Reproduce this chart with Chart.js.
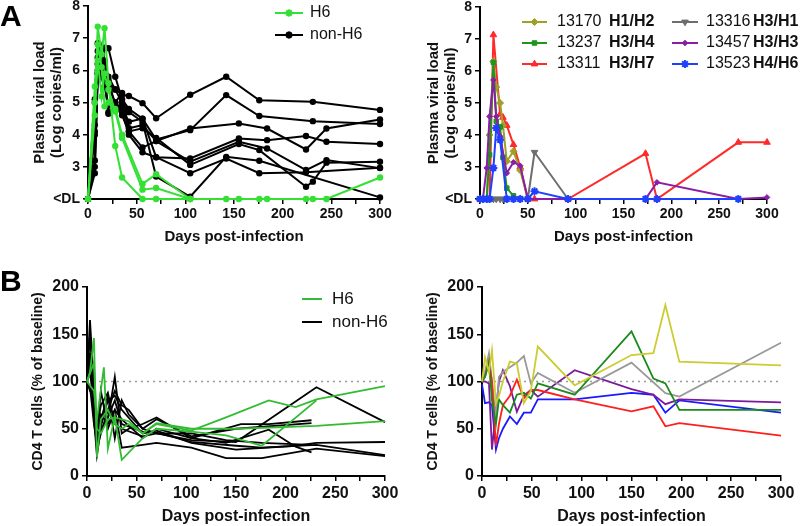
<!DOCTYPE html>
<html>
<head>
<meta charset="utf-8">
<script src="https://cdn.jsdelivr.net/npm/chart.js@4/dist/chart.umd.min.js"></script>
<style>
  html, body { margin:0; padding:0; background:#fff; }
  #wrap { position:relative; width:800px; height:526px; overflow:hidden; background:#fff; }
  canvas { position:absolute; }
  .letter { position:absolute; font-family:'Liberation Sans', Arial, sans-serif; font-weight:bold; font-size:30px; color:#000; line-height:1; }
</style>
</head>
<body>
<div id="wrap">
  <canvas id="cA1" width="400" height="260" style="left:0;top:0"></canvas>
  <canvas id="cA2" width="400" height="260" style="left:400px;top:0"></canvas>
  <canvas id="cB1" width="400" height="266" style="left:0;top:260px"></canvas>
  <canvas id="cB2" width="400" height="266" style="left:400px;top:260px"></canvas>
  <div class="letter" style="left:0;top:1px">A</div>
  <div class="letter" style="left:0;top:266px">B</div>
</div>
<script>
// ---------------- DATA ----------------
// Panel A (left): plasma viral load, log copies/ml (2 = <DL)
const daysA1 = [0,7,10,14,17,21,28,35,42,56,70,105,142,155,176,184,224,231,245,300];
const h6A_1 = [2,5.0,7.36,6.5,7.31,5.6,3.65,2.67,null,2,2,2,2,2,2,2,2,2,2,2.67];
const h6A_2 = [2,4.6,6.3,5.19,5.9,5.4,4.72,3.9,null,2.29,2.34,2,null,null,null,null,null,null,null,null];
const h6A_3 = [2,5.5,6.8,6.1,4.88,5.0,4.8,4.0,null,2.47,2.77,2,null,null,null,null,null,null,null,null];
const nonA_1 = [2,5.1,6.84,6.3,6.0,5.6,5.41,5.24,5.2,4.98,4.51,5.24,5.80,null,5.07,null,null,5.02,null,4.77];
const nonA_2 = [2,4.0,6.6,6.0,6.7,6.69,5.8,5.1,4.8,4.5,3.85,4.14,5.23,null,4.58,null,null,4.42,null,4.33];
const nonA_3 = [2,5.0,6.2,5.8,6.3,5.7,4.9,4.9,4.2,4.3,3.8,4.19,null,4.35,null,4.19,3.54,null,4.19,4.47];
const nonA_4 = [2,4.1,5.9,6.5,5.7,4.65,4.8,4.8,4.4,4.5,3.3,3.26,null,3.88,null,3.83,3.96,null,3.78,3.71];
const nonA_5 = [2,3.0,5.7,6.0,5.5,4.9,5.0,5.3,4.1,3.6,3.8,3.16,null,3.78,null,3.57,2.90,null,3.21,2.96];
const nonA_6 = [2,2.8,6.0,6.7,5.9,4.7,4.9,4.6,4.1,4.2,3.9,3.06,null,3.71,3.52,null,2.38,2.54,3.13,3.16];
const nonA_7 = [2,4.3,6.4,6.2,6.0,5.5,5.0,4.7,4.0,3.45,3.3,2.80,3.26,null,2.80,null,2.83,null,null,2.97];
const nonA_8 = [2,3.2,5.9,6.5,6.2,5.8,5.4,5.0,4.7,4.4,2.7,2.07,3.31,null,3.19,null,null,null,null,2.05];

// Panel A (right): individual animals
const daysA2 = [0,3,7,10,14,17,21,24,28,35,42,50,57,92,173,185,270,300];
const a13170 = [2,2,2,4.0,6.3,5.5,5.0,4.3,3.18,3.49,2.9,2,null,null,null,null,null,null];
const a13237 = [2,2,2,3.38,6.27,4.43,4.25,3.3,2.34,2.1,2,2,null,null,null,null,null,null];
const a13311 = [2,2,2,2,7.13,null,4.65,4.55,4.3,3.7,3.0,2,2,2,3.42,2,3.77,3.77];
const a13316 = [2,2,2,2,2,2,2,2,2,2,2,2,3.46,2,null,null,null,null];
const a13457 = [2,2,2.97,4.58,5.72,4.58,3.96,null,2.81,3.15,3.04,2,null,null,2,2.52,2,2.05];
const a13523 = [2,2,2,2,2.97,4.22,3.85,null,2,2,2,2,2.24,2,2,2,2,null];

// Panel B (left): CD4 T cells, % of baseline
const daysB1 = [0,3,7,10,14,17,21,28,35,42,56,70,105,140,150,155,176,183,210,226,231,300];
const h6B_1 = [100,110,146,20,60,null,70,55,50,55,45,55,48,62,null,null,null,80,73,null,81,95];
const h6B_2 = [100,null,90,60,null,115,29,63,17,null,40,50,47,43,null,null,32,null,null,null,80,null];
const h6B_3 = [100,null,120,50,45,null,60,62,60,58,45,56,50,null,50,null,null,null,null,null,53,58];
const nonB_1 = [100,130,60,22,50,null,60,105,45,50,55,62,40,null,null,55,null,55,null,59,null,null];
const nonB_2 = [100,165,95,25,60,null,85,40,80,65,50,60,42,null,50,null,null,null,null,56,null,null];
const nonB_3 = [100,150,80,40,65,null,55,70,30,null,33,35,30,19,null,null,19,null,null,null,29,21];
const nonB_4 = [100,125,100,30,45,null,70,90,75,70,50,45,38,null,36,null,null,null,null,null,94,57];
const nonB_5 = [100,110,75,60,55,null,80,85,70,null,45,48,35,null,28,null,null,null,32,null,35,36];
const nonB_6 = [100,90,85,45,90,null,50,70,60,null,40,50,40,35,null,null,null,49,31,25,null,null];
const nonB_7 = [100,95,55,35,null,65,62,80,55,null,47,46,36,null,32,null,30,null,null,null,33,22];
const nonB_8 = [100,120,90,50,75,null,88,55,50,null,42,45,45,38,null,null,35,null,null,33,null,null];

// Panel B (right): individual animals
const daysB2 = [0,3,7,10,14,17,21,28,35,42,49,56,93,150,172,184,198,300];
const b13170 = [100,126,110,133,77,85,100,121,119,77,90,137,96,128,130,181,121,117];
const b13237 = [100,105,120,80,55,81,75,67,86,88,82,98,86,153,103,98,70,70];
const b13311 = [100,105,121,100,32,55,75,85,102,82,91,91,81,68.5,73.7,52.6,56,42.8];
const b13316 = [100,110,130,100,60,105,110,115,120,127,98,109,88,120,null,87.7,84,141];
const b13457 = [100,100,98,28,70,100,112,95,68,85,91,84,112,92,86,76,81,78];
const b13523 = [97,77,78,75,28,40,50,63,55,67,67,81,81,88,86,67,80,67];

const baselinePct = 100;
const dayRange = [0, 300];

// ---------------- HELPERS ----------------
const FONT = "'Liberation Sans', Arial, Helvetica, sans-serif";
function pts(days, vals) {
  const out = [];
  days.forEach((d, i) => { if (vals[i] !== null && vals[i] !== undefined) out.push({x: d, y: vals[i]}); });
  return out;
}
function ds(days, vals, color, extra) {
  return Object.assign({
    data: pts(days, vals), borderColor: color, backgroundColor: color,
    pointBackgroundColor: color, pointBorderColor: color,
    borderWidth: 2, tension: 0, pointRadius: 0, clip: false, spanGaps: true
  }, extra || {});
}

const customLegend = {
  id: 'customLegend',
  afterDraw(chart, args, opts) {
    if (!opts || !opts.items) return;
    const ctx = chart.ctx;
    ctx.save();
    opts.items.forEach(it => {
      ctx.setLineDash([]);
      ctx.strokeStyle = it.color; ctx.lineWidth = it.lw || 2;
      ctx.beginPath(); ctx.moveTo(it.x1, it.y); ctx.lineTo(it.x2, it.y); ctx.stroke();
      if (it.point) {
        ctx.fillStyle = it.color; ctx.strokeStyle = it.color; ctx.lineWidth = it.bw || 1;
        const cx = (it.x1 + it.x2) / 2;
        if (Chart.helpers && Chart.helpers.drawPoint) {
          Chart.helpers.drawPoint(ctx, {pointStyle: it.point, radius: it.r, rotation: it.rot || 0, borderWidth: it.bw || 1}, cx, it.y);
        } else {
          ctx.beginPath(); ctx.arc(cx, it.y, it.r, 0, Math.PI * 2); ctx.fill();
        }
      }
      ctx.fillStyle = '#111'; ctx.textBaseline = 'middle'; ctx.textAlign = 'left';
      ctx.font = `${it.size}px ${FONT}`;
      ctx.fillText(it.text, it.tx, it.y);
      if (it.bold) { ctx.font = `bold ${it.size}px ${FONT}`; ctx.fillText(it.bold, it.bx, it.y); }
    });
    ctx.restore();
  }
};
Chart.register(customLegend);

function makeChart(id, datasets, cfg) {
  return new Chart(document.getElementById(id), {
    type: 'line',
    data: { datasets },
    options: {
      responsive: false, animation: false, devicePixelRatio: 1,
      layout: { padding: cfg.pad },
      plugins: { legend: { display: false }, tooltip: { enabled: false }, customLegend: { items: cfg.legend } },
      scales: {
        x: {
          type: 'linear', min: dayRange[0], max: dayRange[1],
          border: { color: '#000', width: 2 },
          grid: { drawOnChartArea: false, color: '#000', lineWidth: 1.5, tickLength: 5 },
          ticks: { stepSize: 25, autoSkip: false, maxRotation: 0, color: '#111', padding: cfg.xTickPad,
                   font: { family: FONT, size: cfg.tickSize, weight: 'bold' },
                   callback: v => (v % 50 === 0 ? String(v) : '') },
          title: { display: true, text: 'Days post-infection', color: '#111',
                   font: { family: FONT, size: cfg.xTitleSize, weight: 'bold', lineHeight: 1.2 },
                   padding: { top: 0, bottom: cfg.xTitlePad } },
          afterFit: s => { s.height = cfg.xH; s.paddingLeft = 0; s.paddingRight = 0; }
        },
        y: {
          type: 'linear', min: cfg.yMin, max: cfg.yMax,
          border: { color: '#000', width: 2 },
          grid: { drawOnChartArea: false, color: '#000', lineWidth: 1.5, tickLength: 5 },
          ticks: { stepSize: cfg.yStep, color: '#111', padding: 3,
                   font: { family: FONT, size: cfg.tickSize, weight: 'bold' },
                   callback: cfg.yCb },
          title: { display: true, text: cfg.yTitle, color: '#111',
                   font: { family: FONT, size: cfg.yTitleSize, weight: 'bold', lineHeight: cfg.yTitleLH },
                   padding: { top: 4, bottom: 0 } },
          afterFit: s => { s.width = cfg.yW; s.paddingTop = 0; s.paddingBottom = 0; }
        }
      }
    }
  });
}

const dlCb = v => (v === 2 ? '<DL' : String(v));

// ---------------- PANEL A LEFT ----------------
const GA = '#35e035', BK = '#000000';
const ptA = { pointRadius: 3.2, pointHoverRadius: 3.2, pointStyle: 'circle', pointBorderWidth: 0 };
makeChart('cA1', [
  ds(daysA1, h6A_1, GA, ptA), ds(daysA1, h6A_2, GA, ptA), ds(daysA1, h6A_3, GA, ptA),
  ds(daysA1, nonA_1, BK, ptA), ds(daysA1, nonA_2, BK, ptA), ds(daysA1, nonA_3, BK, ptA), ds(daysA1, nonA_4, BK, ptA),
  ds(daysA1, nonA_5, BK, ptA), ds(daysA1, nonA_6, BK, ptA), ds(daysA1, nonA_7, BK, ptA), ds(daysA1, nonA_8, BK, ptA)
], {
  pad: { left: 27, right: 20, top: 6, bottom: 10 }, yW: 61, xH: 51, xTitlePad: 4, xTickPad: 2,
  tickSize: 14, xTitleSize: 15, yTitleSize: 15, yTitleLH: 1.15,
  yMin: 2, yMax: 8, yStep: 1, yCb: dlCb, yTitle: ['Plasma viral load', '(Log copies/ml)'],
  legend: [
    { x1: 275, x2: 303, y: 13, color: GA, point: 'circle', r: 3.2, text: 'H6', tx: 310, size: 16 },
    { x1: 275, x2: 303, y: 35, color: BK, point: 'circle', r: 3.2, text: 'non-H6', tx: 310, size: 16 }
  ]
});

// ---------------- PANEL A RIGHT ----------------
const C1 = '#a0a028', C2 = '#1e961e', C3 = '#ff2a2a', C4 = '#6e6e6e', C5 = '#8a1ea6', C6 = '#2040ff';
makeChart('cA2', [
  ds(daysA2, a13523, C6, { pointStyle: 'star', pointRadius: 4, pointBorderWidth: 2 }),
  ds(daysA2, a13457, C5, { pointStyle: 'rectRot', pointRadius: 2.8, pointBorderWidth: 1 }),
  ds(daysA2, a13316, C4, { pointStyle: 'triangle', rotation: 180, pointRotation: 180, pointRadius: 3.8, pointBorderWidth: 1 }),
  ds(daysA2, a13237, C2, { pointStyle: 'rect', pointRadius: 3.2, pointBorderWidth: 1 }),
  ds(daysA2, a13170, C1, { pointStyle: 'rectRot', pointRadius: 3.5, pointBorderWidth: 1 }),
  ds(daysA2, a13311, C3, { pointStyle: 'triangle', pointRadius: 3.8, pointBorderWidth: 1 })
], {
  pad: { left: 21, right: 33, top: 7, bottom: 10 }, yW: 59, xH: 51, xTitlePad: 4, xTickPad: 2,
  tickSize: 14, xTitleSize: 15, yTitleSize: 15, yTitleLH: 1.15,
  yMin: 2, yMax: 8, yStep: 1, yCb: dlCb, yTitle: ['Plasma viral load', '(Log copies/ml)'],
  legend: [
    { x1: 122, x2: 147, y: 22, color: C1, point: 'rectRot', r: 3.5, text: '13170', tx: 157, bold: 'H1/H2', bx: 209, size: 16 },
    { x1: 122, x2: 147, y: 43, color: C2, point: 'rect', r: 3.2, text: '13237', tx: 157, bold: 'H3/H4', bx: 209, size: 16 },
    { x1: 122, x2: 147, y: 64, color: C3, point: 'triangle', r: 3.8, text: '13311', tx: 157, bold: 'H3/H7', bx: 209, size: 16 },
    { x1: 272, x2: 298, y: 22, color: C4, point: 'triangle', rot: 180, r: 3.8, text: '13316', tx: 306, bold: 'H3/H1', bx: 353, size: 16 },
    { x1: 272, x2: 298, y: 43, color: C5, point: 'rectRot', r: 2.8, text: '13457', tx: 306, bold: 'H3/H3', bx: 353, size: 16 },
    { x1: 272, x2: 298, y: 64, color: C6, point: 'star', r: 4, bw: 2, text: '13523', tx: 306, bold: 'H4/H6', bx: 353, size: 16 }
  ]
});

// ---------------- PANEL B LEFT ----------------
const GB = '#33bb33';
const lnB = { borderWidth: 1.8 };
const baseB = { data: [{x: dayRange[0], y: baselinePct}, {x: dayRange[1], y: baselinePct}], borderColor: '#9a9a9a',
  borderDash: [2, 4], borderWidth: 1.5, pointRadius: 0, order: 10, clip: false };
makeChart('cB1', [
  ds(daysB1, h6B_1, GB, lnB), ds(daysB1, h6B_2, GB, lnB), ds(daysB1, h6B_3, GB, lnB),
  ds(daysB1, nonB_1, BK, lnB), ds(daysB1, nonB_2, BK, lnB), ds(daysB1, nonB_3, BK, lnB), ds(daysB1, nonB_4, BK, lnB),
  ds(daysB1, nonB_5, BK, lnB), ds(daysB1, nonB_6, BK, lnB), ds(daysB1, nonB_7, BK, lnB), ds(daysB1, nonB_8, BK, lnB),
  baseB
], {
  pad: { left: 26, right: 15, top: 27, bottom: 0 }, yW: 61, xH: 50, xTitlePad: 0, xTickPad: 3,
  tickSize: 16, xTitleSize: 16, yTitleSize: 14, yTitleLH: 1.2,
  yMin: 0, yMax: 200, yStep: 50, yCb: v => String(v), yTitle: 'CD4 T cells (% of baseline)',
  legend: [
    { x1: 302, x2: 322, y: 39, color: GB, text: 'H6', tx: 332, size: 17 },
    { x1: 302, x2: 322, y: 62, color: BK, text: 'non-H6', tx: 332, size: 17 }
  ]
});

// ---------------- PANEL B RIGHT ----------------
const D1 = '#cccc33', D2 = '#1a8a1a', D3 = '#ff1e1e', D4 = '#999999', D5 = '#7a1a9a', D6 = '#1a1aff';
makeChart('cB2', [
  ds(daysB2, b13170, D1, lnB), ds(daysB2, b13237, D2, lnB), ds(daysB2, b13311, D3, lnB),
  ds(daysB2, b13316, D4, lnB), ds(daysB2, b13457, D5, lnB), ds(daysB2, b13523, D6, lnB),
  baseB
], {
  pad: { left: 21, right: 19, top: 27, bottom: 0 }, yW: 61, xH: 50, xTitlePad: 0, xTickPad: 3,
  tickSize: 16, xTitleSize: 16, yTitleSize: 14, yTitleLH: 1.2,
  yMin: 0, yMax: 200, yStep: 50, yCb: v => String(v), yTitle: 'CD4 T cells (% of baseline)',
  legend: []
});
</script>
</body>
</html>
